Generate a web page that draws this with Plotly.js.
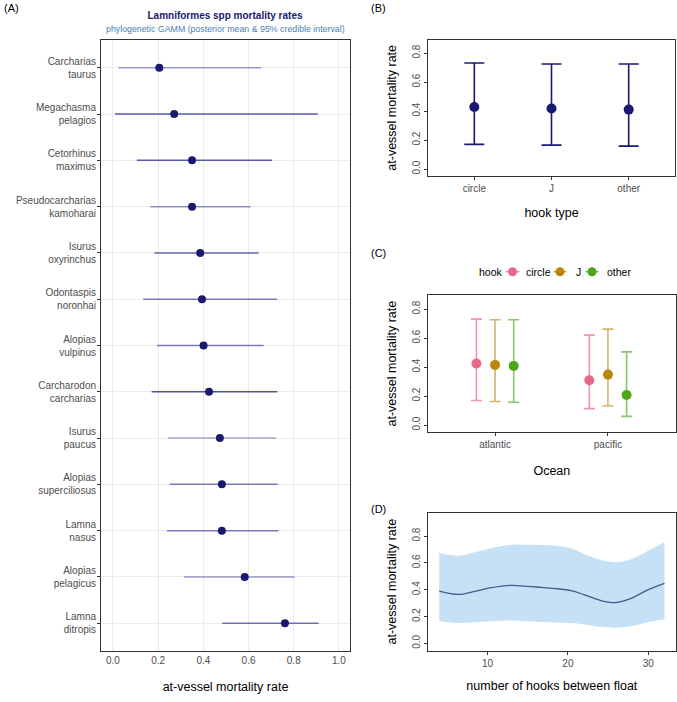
<!DOCTYPE html>
<html>
<head>
<meta charset="utf-8">
<script src="https://cdn.plot.ly/plotly-3.0.1.min.js"></script>
<style>html,body{margin:0;padding:0;background:#fff}#chart{width:677px;height:702px}</style>
</head>
<body>
<div id="chart"></div>
<script>
// ---------- Panel A data ----------
const species = ["Carcharias<br>taurus","Megachasma<br>pelagios","Cetorhinus<br>maximus","Pseudocarcharias<br>kamoharai",
  "Isurus<br>oxyrinchus","Odontaspis<br>noronhai","Alopias<br>vulpinus","Carcharodon<br>carcharias","Isurus<br>paucus",
  "Alopias<br>superciliosus","Lamna<br>nasus","Alopias<br>pelagicus","Lamna<br>ditropis"];
const spMean = [0.205,0.271,0.350,0.350,0.386,0.394,0.401,0.425,0.473,0.482,0.482,0.583,0.761];
const spLow  = [0.024,0.009,0.106,0.165,0.183,0.134,0.195,0.171,0.243,0.251,0.239,0.314,0.484];
const spHigh = [0.655,0.906,0.704,0.609,0.645,0.726,0.667,0.727,0.721,0.729,0.732,0.804,0.910];
const spLineAlpha = [0.45,0.75,0.75,0.5,0.7,0.6,0.6,0.8,0.4,0.6,0.6,0.45,0.65];

// ---------- Panel B data ----------
const hookTypes = ["circle","J","other"];
const hookMean = [0.428,0.417,0.410];
const hookLow  = [0.170,0.165,0.158];
const hookHigh = [0.731,0.724,0.724];

// ---------- Panel C data ----------
const oceans = ["atlantic","pacific"];
const ocMean = {circle:[0.425,0.309], J:[0.415,0.348], other:[0.408,0.207]};
const ocLow  = {circle:[0.169,0.113], J:[0.162,0.131], other:[0.157,0.060]};
const ocHigh = {circle:[0.731,0.620], J:[0.726,0.662], other:[0.726,0.505]};

// ---------- Panel D data ----------
const nHooks = [4,6.4,8.4,10.5,12.8,14.6,16.7,18.7,20.4,22,24.1,25.9,27.8,29.8,32];
const hkMean = [0.390,0.365,0.388,0.415,0.432,0.427,0.417,0.407,0.393,0.363,0.319,0.304,0.333,0.395,0.447];
const hkUpper= [0.674,0.654,0.679,0.709,0.733,0.736,0.733,0.726,0.709,0.667,0.622,0.605,0.625,0.684,0.753];
const hkLower= [0.165,0.151,0.158,0.165,0.170,0.165,0.160,0.156,0.151,0.141,0.123,0.116,0.128,0.156,0.178];

// ---------- styles ----------
const W = 677, H = 702;
const navy = "#191970";
const hookColors = {circle:"#E8688A", J:"#B8860B", other:"#4DA61A"};
const hookBarColors = {circle:"rgba(232,104,138,0.7)", J:"rgba(184,134,11,0.6)", other:"rgba(77,166,26,0.65)"};
const dodge = {circle:-0.165, J:0, other:0.165};
const tickFont = {family:"Liberation Sans, Arial, sans-serif", size:10, color:"#4d4d4d"};
const tickFontA = {family:"Liberation Sans, Arial, sans-serif", size:10, color:"#4d4d4d"};
const titleFont = {family:"Liberation Sans, Arial, sans-serif", size:12.5, color:"#000"};
// legend key layout (pixel positions of marker centres and text starts)
const legendKeyX = {circle:512.5, J:560, other:592};
const legendTextX = {circle:524, J:574, other:605};
const legendY = 271.7;

const traces = [];

// Panel A lines
species.forEach((s,i)=>{
  traces.push({type:"scatter", mode:"lines", x:[spLow[i], spHigh[i]], y:[i,i], xaxis:"x", yaxis:"y",
    line:{color:`rgba(40,40,150,${spLineAlpha[i]})`, width:1.5}, showlegend:false, hoverinfo:"skip"});
});
traces.push({type:"scatter", mode:"markers", x:spMean, y:species.map((s,i)=>i), xaxis:"x", yaxis:"y",
  marker:{color:navy, size:8}, showlegend:false});

// Panel B
traces.push({type:"scatter", mode:"markers", x:hookTypes.map((h,i)=>i), y:hookMean, xaxis:"x2", yaxis:"y2",
  marker:{color:navy, size:10}, showlegend:false,
  error_y:{type:"data", symmetric:false, array:hookHigh.map((v,i)=>v-hookMean[i]), arrayminus:hookMean.map((v,i)=>v-hookLow[i]),
    color:navy, thickness:1.6, width:10}});

// Panel C
hookTypes.forEach(h=>{
  traces.push({type:"scatter", mode:"markers", x:oceans.map((o,i)=>i+dodge[h]), y:ocMean[h], xaxis:"x3", yaxis:"y3",
    marker:{color:hookColors[h], size:10}, showlegend:false, name:h,
    error_y:{type:"data", symmetric:false, array:ocHigh[h].map((v,i)=>v-ocMean[h][i]), arrayminus:ocMean[h].map((v,i)=>v-ocLow[h][i]),
      color:hookBarColors[h], thickness:1.6, width:5.5}});
});

// Panel D
traces.push({type:"scatter", mode:"lines", x:nHooks, y:hkLower, xaxis:"x4", yaxis:"y4",
  line:{width:0, shape:"spline", color:"rgba(0,0,0,0)"}, showlegend:false, hoverinfo:"skip"});
traces.push({type:"scatter", mode:"lines", x:nHooks, y:hkUpper, xaxis:"x4", yaxis:"y4", fill:"tonexty",
  fillcolor:"#C6E0F5", line:{width:0, shape:"spline", color:"rgba(0,0,0,0)"}, showlegend:false, hoverinfo:"skip"});
traces.push({type:"scatter", mode:"lines", x:nHooks, y:hkMean, xaxis:"x4", yaxis:"y4",
  line:{width:1.3, shape:"spline", color:"#3A5F8A"}, showlegend:false});

const boxAxis = {showline:true, mirror:true, linecolor:"#333", linewidth:1, showgrid:false, zeroline:false,
  ticks:"outside", ticklen:3, tickcolor:"#333", tickfont:tickFont};

// manual legend for panel C
const shapes = [];
const annotations = [
  {text:"phylogenetic GAMM (posterior mean & 95% credible interval)", xref:"paper", yref:"paper", x:225/W, y:1-29/H,
    xanchor:"center", yanchor:"middle", showarrow:false, font:{size:8.8, color:"#4682B4"}},
  {text:"(A)", xref:"paper", yref:"paper", x:2/W, y:1-8/H, xanchor:"left", yanchor:"middle", showarrow:false, font:{size:11, color:"#000"}},
  {text:"(B)", xref:"paper", yref:"paper", x:369/W, y:1-8/H, xanchor:"left", yanchor:"middle", showarrow:false, font:{size:11, color:"#000"}},
  {text:"(C)", xref:"paper", yref:"paper", x:369/W, y:1-253/H, xanchor:"left", yanchor:"middle", showarrow:false, font:{size:11, color:"#000"}},
  {text:"(D)", xref:"paper", yref:"paper", x:369/W, y:1-509/H, xanchor:"left", yanchor:"middle", showarrow:false, font:{size:11, color:"#000"}},
  {text:"hook", xref:"paper", yref:"paper", x:477/W, y:1-legendY/H, xanchor:"left", yanchor:"middle", showarrow:false, font:{size:10.5, color:"#000"}}
];
hookTypes.forEach(h=>{
  const cx = legendKeyX[h];
  shapes.push({type:"line", xref:"paper", yref:"paper", x0:(cx-7)/W, x1:(cx+7)/W, y0:1-legendY/H, y1:1-legendY/H,
    line:{color:hookBarColors[h], width:1.6}});
  shapes.push({type:"circle", xref:"paper", yref:"paper", x0:(cx-4.5)/W, x1:(cx+4.5)/W, y0:1-(legendY+4.5)/H, y1:1-(legendY-4.5)/H,
    fillcolor:hookColors[h], line:{color:hookColors[h], width:0}});
  annotations.push({text:h, xref:"paper", yref:"paper", x:legendTextX[h]/W, y:1-legendY/H, xanchor:"left", yanchor:"middle",
    showarrow:false, font:{size:10.5, color:"#000"}});
});
// y-axis titles of panels B-D
[[108],[363.8],[581.8]].forEach(([cy])=>{
  annotations.push({text:"at-vessel mortality rate", xref:"paper", yref:"paper", x:391.7/W, y:1-cy/H, textangle:-90,
    xanchor:"center", yanchor:"middle", showarrow:false, font:titleFont});
});

const layout = {
  width:W, height:H, margin:{l:0,r:0,t:0,b:0}, paper_bgcolor:"#fff", plot_bgcolor:"#fff",
  font:{family:"Liberation Sans, Arial, sans-serif"},
  title:{text:"<b>Lamniformes spp mortality rates</b>", x:225/W, xanchor:"center", y:1-15/H, yanchor:"middle",
    yref:"container", font:{size:10, color:navy}},
  xaxis:{domain:[101/W,350/W], anchor:"y", range:[-0.053,1.049], tickvals:[0,0.2,0.4,0.6,0.8,1.0], tickformat:".1f",
    showgrid:true, gridcolor:"#ebebeb", gridwidth:1, zeroline:false, showline:true, mirror:true, linecolor:"#333",
    ticks:"", tickfont:tickFontA,
    title:{text:"at-vessel mortality rate", font:titleFont, standoff:17}},
  yaxis:{domain:[1-651/H,1-40/H], anchor:"x", range:[12.6,-0.6], tickvals:species.map((s,i)=>i), ticktext:species,
    showgrid:true, gridcolor:"#ebebeb", zeroline:false, showline:true, mirror:true, linecolor:"#333",
    ticks:"outside", ticklen:3, tickcolor:"#333", tickfont:tickFontA, ticklabelstandoff:-1},
  xaxis2:Object.assign({}, boxAxis, {domain:[428/W,675/W], anchor:"y2", range:[-0.6,2.6],
    tickvals:[0,1,2], ticktext:hookTypes, title:{text:"hook type", font:titleFont, standoff:15}}),
  yaxis2:Object.assign({}, boxAxis, {domain:[1-176/H,1-40/H], anchor:"x2", range:[-0.048,0.89],
    tickvals:[0,0.2,0.4,0.6,0.8], tickformat:".1f", tickangle:-90}),
  xaxis3:Object.assign({}, boxAxis, {domain:[428/W,675.7/W], anchor:"y3", range:[-0.594,1.6],
    tickvals:[0,1], ticktext:oceans, title:{text:"Ocean", font:titleFont, standoff:16}}),
  yaxis3:Object.assign({}, boxAxis, {domain:[1-432.3/H,1-295.3/H], anchor:"x3", range:[-0.05,0.895],
    tickvals:[0,0.2,0.4,0.6,0.8], tickformat:".1f", tickangle:-90}),
  xaxis4:Object.assign({}, boxAxis, {domain:[428/W,675.7/W], anchor:"y4", range:[2.6,33.4],
    tickvals:[10,20,30], title:{text:"number of hooks between float", font:titleFont, standoff:13}}),
  yaxis4:Object.assign({}, boxAxis, {domain:[1-651/H,1-512.7/H], anchor:"x4", range:[-0.057,0.974],
    tickvals:[0,0.2,0.4,0.6,0.8], tickformat:".1f", tickangle:-90}),
  showlegend:false,
  shapes:shapes,
  annotations:annotations
};

Plotly.newPlot("chart", traces, layout, {displayModeBar:false, staticPlot:true});
</script>
</body>
</html>
